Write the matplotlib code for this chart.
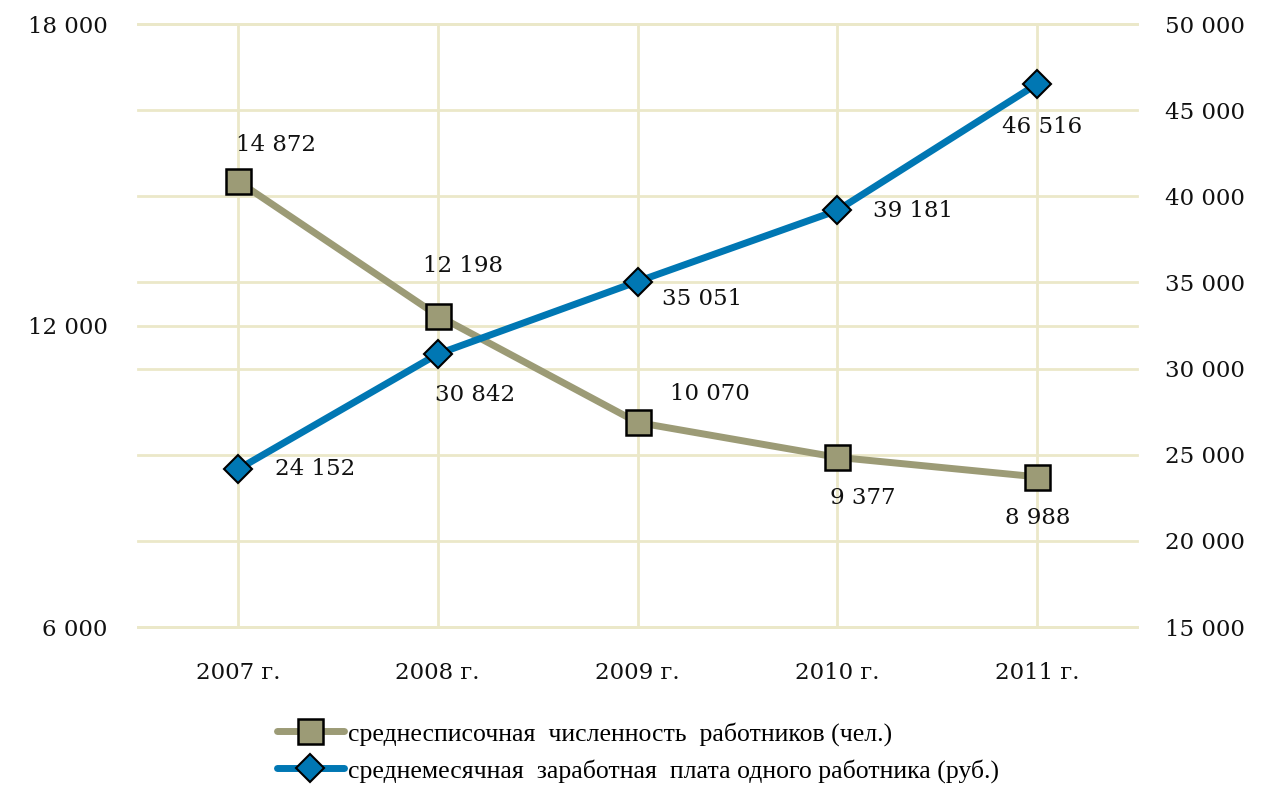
import matplotlib.pyplot as plt
from matplotlib.lines import Line2D

# данные
years = ['2007 г.', '2008 г.', '2009 г.', '2010 г.', '2011 г.']
staff = [14872, 12198, 10070, 9377, 8988]
salary = [24152, 30842, 35051, 39181, 46516]
staff_labels = ['14 872', '12 198', '10 070', '9 377', '8 988']
salary_labels = ['24 152', '30 842', '35 051', '39 181', '46 516']
left_ticks = [6000, 12000, 18000]
right_ticks = [15000, 20000, 25000, 30000, 35000, 40000, 45000, 50000]

# смещения подписей (пиксели)
staff_off = [(38, 36), (25, 50), (72, 28), (25, -41), (1, -41)]
salary_off = [(77, 0), (37, -41), (65, -17), (76, -1), (5, -43)]

col_olive = '#9c9b76'
col_blue = '#0077b3'
col_grid = '#ebe8c9'
col_txt = '#111111'
fnt = 'DejaVu Serif'

def fmt(v):
    return f'{v:,}'.replace(',', ' ')

fig = plt.figure(figsize=(12.77, 7.85), dpi=100)
ax = fig.add_axes([138/1277, 1-627/785, (1137-138)/1277, (627-24)/785])
axg = ax.twinx()
ax2 = ax.twinx()
axg.set_zorder(0)
ax.set_zorder(1)
ax2.set_zorder(2)
ax.patch.set_visible(False)
ax2.patch.set_visible(False)

x = list(range(len(years)))

# сетка по правой шкале
axg.set_ylim(15000, 50000)
axg.set_yticks(right_ticks)
axg.grid(True, axis='y', color=col_grid, lw=2)
axg.tick_params(left=False, right=False, labelright=False)

ax.set_xlim(-0.5, 4.5)
ax.set_ylim(6000, 18000)
ax.set_yticks(left_ticks)
ax.set_yticklabels([fmt(v) for v in left_ticks], fontsize=16.5, family=fnt, color=col_txt)
ax.set_xticks(x)
ax.set_xticklabels(years, fontsize=16.5, family=fnt, color=col_txt)
ax.grid(True, color=col_grid, lw=2)
ax.tick_params(length=0)
ax.tick_params(axis='x', pad=25)
ax.tick_params(axis='y', pad=22)

ax2.set_ylim(15000, 50000)
ax2.set_yticks(right_ticks)
ax2.set_yticklabels([fmt(v) for v in right_ticks], fontsize=16.5, family=fnt, color=col_txt)
ax2.tick_params(length=0, pad=20)

for gl in axg.get_ygridlines() + ax.get_ygridlines():
    gl.set_clip_on(False)

for a in (ax, ax2, axg):
    for s in a.spines.values():
        s.set_visible(False)

ax.plot(x, staff, color=col_olive, lw=5, marker='s', ms=18,
        mfc=col_olive, mec='black', mew=1.8, solid_capstyle='round')
ax2.plot(x, salary, color=col_blue, lw=5, marker='D', ms=14,
         mfc=col_blue, mec='black', mew=1.5, solid_capstyle='round')

for i in x:
    ax.annotate(staff_labels[i], (x[i], staff[i]), xytext=staff_off[i],
                textcoords='offset pixels', ha='center', va='center',
                fontsize=16.5, family=fnt, color=col_txt)
    ax2.annotate(salary_labels[i], (x[i], salary[i]), xytext=salary_off[i],
                 textcoords='offset pixels', ha='center', va='center',
                 fontsize=16.5, family=fnt, color=col_txt)

handles = [
    Line2D([], [], color=col_olive, lw=5, marker='s', ms=18, mfc=col_olive,
           mec='black', mew=1.8, solid_capstyle='round'),
    Line2D([], [], color=col_blue, lw=5, marker='D', ms=14, mfc=col_blue,
           mec='black', mew=1.5, solid_capstyle='round'),
]
labels = ['среднесписочная  численность  работников (чел.)',
          'среднемесячная  заработная  плата одного работника (руб.)']
fig.legend(handles, labels, loc='upper left', bbox_to_anchor=(264/1277, 1-709/785),
           frameon=False, prop={'family': 'Liberation Serif', 'size': 18.5},
           handlelength=2.6, handletextpad=0.15, labelspacing=0.5, borderpad=0)

fig.savefig('out.png', dpi=100)
